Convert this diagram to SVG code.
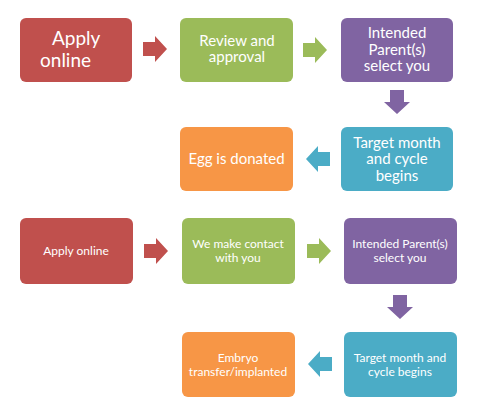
<svg xmlns="http://www.w3.org/2000/svg" width="489" height="420" viewBox="0 0 489 420">
  <defs>
    <style>
      .box { stroke: none; }
      .red { fill: #C0504D; }
      .green { fill: #9BBB59; }
      .purple { fill: #8064A2; }
      .teal { fill: #4BACC6; }
      .orange { fill: #F79646; }
      text { font-family: Lato, "Open Sans", "Liberation Sans", sans-serif; fill: #FFFFFF; text-anchor: middle; }
      .t19 { font-size: 19px; text-anchor: start; }
      .t15 { font-size: 15px; }
      .t12 { font-size: 12px; }
    </style>
    <path id="arrowR" d="M0,-7 H12 V-13 L24,0 L12,13 V7 H0 Z"/>
  </defs>
  <rect width="489" height="420" fill="#FFFFFF"/>

  <g id="connectors">
    <use href="#arrowR" class="red" transform="translate(143,49)"/>
    <use href="#arrowR" class="green" transform="translate(303,50)"/>
    <use href="#arrowR" class="purple" transform="translate(397,90) rotate(90)"/>
    <use href="#arrowR" class="teal" transform="translate(330,159) rotate(180)"/>
    <use href="#arrowR" class="red" transform="translate(144,251)"/>
    <use href="#arrowR" class="green" transform="translate(307,251)"/>
    <use href="#arrowR" class="purple" transform="translate(400,295) rotate(90)"/>
    <use href="#arrowR" class="teal" transform="translate(332,364) rotate(180)"/>
  </g>

  <g id="n1">
    <rect class="box red" x="20" y="18" width="112" height="64" rx="6"/>
    <text class="t19" x="52" y="44.5">Apply</text>
    <text class="t19" x="40" y="67">online</text>
  </g>
  <g id="n2">
    <rect class="box green" x="180" y="18" width="113" height="64" rx="6"/>
    <text class="t15" x="237" y="45.5">Review and</text>
    <text class="t15" x="237" y="62">approval</text>
  </g>
  <g id="n3">
    <rect class="box purple" x="341" y="18" width="112" height="64" rx="6"/>
    <text class="t15" x="397" y="38">Intended</text>
    <text class="t15" x="397" y="54.5">Parent(s)</text>
    <text class="t15" x="397" y="71">select you</text>
  </g>
  <g id="n4">
    <rect class="box teal" x="341" y="127" width="112" height="64" rx="6"/>
    <text class="t15" x="397" y="147.5">Target month</text>
    <text class="t15" x="397" y="164">and cycle</text>
    <text class="t15" x="397" y="180.5">begins</text>
  </g>
  <g id="n5">
    <rect class="box orange" x="180" y="127" width="113" height="64" rx="6"/>
    <text class="t15" x="236.5" y="163.5">Egg is donated</text>
  </g>

  <g id="n6">
    <rect class="box red" x="20" y="218" width="113" height="66" rx="6"/>
    <text class="t12" x="76" y="254.5">Apply online</text>
  </g>
  <g id="n7">
    <rect class="box green" x="182" y="218" width="113" height="66" rx="6"/>
    <text class="t12" x="238" y="247.5">We make contact</text>
    <text class="t12" x="238" y="261.5">with you</text>
  </g>
  <g id="n8">
    <rect class="box purple" x="344" y="218" width="113" height="66" rx="6"/>
    <text class="t12" x="400" y="248">Intended Parent(s)</text>
    <text class="t12" x="400" y="262">select you</text>
  </g>
  <g id="n9">
    <rect class="box teal" x="344" y="332" width="113" height="65" rx="6"/>
    <text class="t12" x="400" y="361.5">Target month and</text>
    <text class="t12" x="400" y="375.5">cycle begins</text>
  </g>
  <g id="n10">
    <rect class="box orange" x="182" y="332" width="113" height="65" rx="6"/>
    <text class="t12" x="238" y="361.5">Embryo</text>
    <text class="t12" x="238" y="375.5">transfer/implanted</text>
  </g>
</svg>
